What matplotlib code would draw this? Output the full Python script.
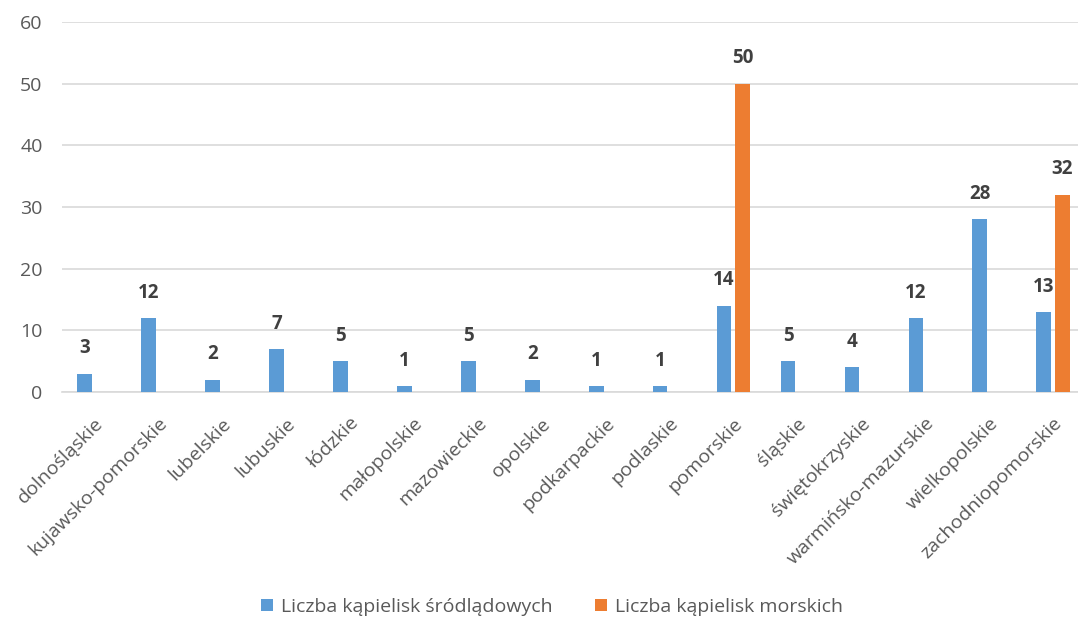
import matplotlib
matplotlib.use("Agg")
import matplotlib.pyplot as plt
import numpy as np

categories = ["dolnośląskie", "kujawsko-pomorskie", "lubelskie", "lubuskie", "łódzkie",
              "małopolskie", "mazowieckie", "opolskie", "podkarpackie", "podlaskie",
              "pomorskie", "śląskie", "świętokrzyskie", "warmińsko-mazurskie",
              "wielkopolskie", "zachodniopomorskie"]
inland = [3, 12, 2, 7, 5, 1, 5, 2, 1, 1, 14, 5, 4, 12, 28, 13]
sea = [0, 0, 0, 0, 0, 0, 0, 0, 0, 0, 50, 0, 0, 0, 0, 32]
series_names = ["Liczba kąpielisk śródlądowych", "Liczba kąpielisk morskich"]
yticks = [0, 10, 20, 30, 40, 50, 60]

plt.rcParams['font.family'] = ['Open Sans', 'DejaVu Sans']

W, H = 1078, 621
fig = plt.figure(figsize=(W/100, H/100), dpi=100)
ax = fig.add_axes([62/W, (H-392)/H, 1023/W, 370/H])

blue = "#5B9BD5"
orange = "#ED7D31"
x = np.arange(len(categories))
bw = 0.23
off = 0.145
ax.bar(x - off, inland, bw, color=blue, label=series_names[0], zorder=3)
ax.bar(x + off, sea, bw, color=orange, label=series_names[1], zorder=3)

for xi, v in zip(x, inland):
    ax.annotate(str(v), (xi - off, v), xytext=(0, 11), textcoords="offset points",
                ha="center", va="bottom", fontsize=13.5, fontweight="bold", color="#404040")
for xi, v in zip(x, sea):
    if v > 0:
        ax.annotate(str(v), (xi + off, v), xytext=(0, 11), textcoords="offset points",
                    ha="center", va="bottom", fontsize=13.5, fontweight="bold", color="#404040")

ax.set_xlim(-0.5, len(categories) - 0.5)
ax.set_ylim(0, 60)
ax.set_yticks(yticks)
ax.set_yticklabels([str(t) for t in yticks], fontsize=14, color="#595959")
ax.yaxis.grid(True, color="#D9D9D9", linewidth=1.2, zorder=0)
ax.set_axisbelow(True)
for s in ["top", "right", "left"]:
    ax.spines[s].set_visible(False)
ax.spines["bottom"].set_color("#D9D9D9")
ax.spines["bottom"].set_linewidth(1.2)
ax.tick_params(axis="y", length=0, pad=14)
ax.tick_params(axis="x", length=0, pad=16)
ax.set_xticks(x)
ax.set_xticklabels(categories, rotation=45, ha="right", rotation_mode="anchor",
                   fontsize=14, color="#595959")

leg = fig.legend(loc="center", bbox_to_anchor=(0.5 + 13/W, (H-607)/H), ncol=2, frameon=False,
                 fontsize=14, handlelength=0.6, handleheight=0.6, handletextpad=0.4,
                 columnspacing=2.2)
for t in leg.get_texts():
    t.set_color("#595959")

fig.savefig("out.png", dpi=100)
